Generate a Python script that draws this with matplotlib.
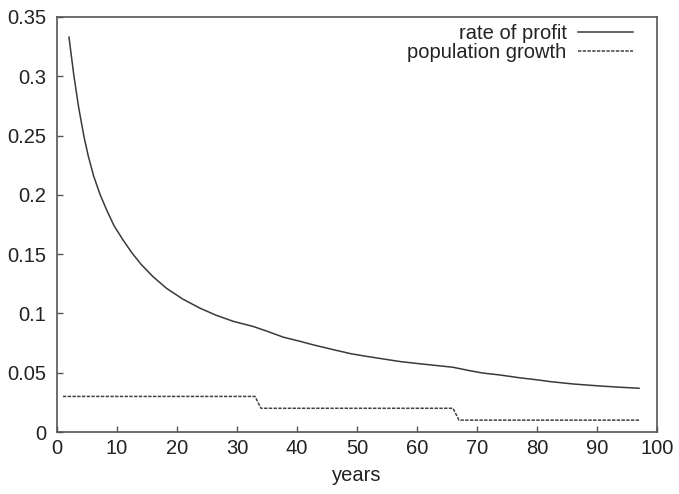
import numpy as np
import matplotlib
matplotlib.use("Agg")
import matplotlib.pyplot as plt

# values
years = [2, 2.8, 3.6, 4.5, 5.2, 6.1, 7.2, 8.3, 9.5, 11, 12.5, 14, 16, 18.3, 21, 23.8, 26.5,
         29.4, 32.7, 35, 37.7, 40.5, 42.7, 46, 49, 51.6, 54.5, 57.2, 60, 63, 66, 68.5, 71,
         73.8, 77, 80, 82.2, 86, 90.5, 94, 97]
rate_of_profit = [0.333, 0.301, 0.274, 0.249, 0.233, 0.216, 0.200, 0.187, 0.174, 0.162, 0.151,
                  0.1415, 0.131, 0.121, 0.112, 0.1045, 0.0985, 0.0933, 0.089, 0.085, 0.080, 0.0765,
                  0.0735, 0.0695, 0.066, 0.0638, 0.0615, 0.0594, 0.0578, 0.0562, 0.0546, 0.052,
                  0.0497, 0.0481, 0.0458, 0.044, 0.0425, 0.0405, 0.0388, 0.0377, 0.0369]

pop_years = [1, 33, 34, 66, 67, 97]
pop_growth = [0.03, 0.03, 0.02, 0.02, 0.01, 0.01]

xticks = [0, 10, 20, 30, 40, 50, 60, 70, 80, 90, 100]
xtick_labels = ["0", "10", "20", "30", "40", "50", "60", "70", "80", "90", "100"]
yticks = [0, 0.05, 0.1, 0.15, 0.2, 0.25, 0.3, 0.35]
ytick_labels = ["0", "0.05", "0.1", "0.15", "0.2", "0.25", "0.3", "0.35"]

plt.rcParams['font.family'] = ['Liberation Sans', 'DejaVu Sans']
fs = 14.5

fig = plt.figure(figsize=(6.79, 4.94), dpi=100)
ax = fig.add_axes([57 / 679, 1 - 432 / 494, 600 / 679, 415 / 494])

ax.plot(years, rate_of_profit, color='#3a3a3a', lw=1.1, label='rate of profit')
ax.plot(pop_years, pop_growth, color='#404040', lw=1.1, linestyle=(0, (2.2, 0.9)),
        label='population growth')

ax.set_xlim(0, 100)
ax.set_ylim(0, 0.35)
ax.set_xticks(xticks)
ax.set_xticklabels(xtick_labels)
ax.set_yticks(yticks)
ax.set_yticklabels(ytick_labels)

for s in ax.spines.values():
    s.set_color('#555555')
    s.set_linewidth(1.2)
ax.tick_params(direction='in', length=4, width=1.0, color='#555555', labelsize=fs, labelcolor='#222222')
ax.tick_params(axis='y', pad=8)
ax.tick_params(axis='x', pad=5)
ax.set_xlabel('years', fontsize=fs, color='#222222', labelpad=6)

leg = ax.legend(loc='upper right', bbox_to_anchor=((633 - 57) / 600, 0.982), frameon=False,
                markerfirst=False, fontsize=fs, handlelength=2.75, handletextpad=0.55,
                labelspacing=0.0, borderpad=0, borderaxespad=0)
for t in leg.get_texts():
    t.set_color('#222222')

fig.savefig('out.png', dpi=100)
